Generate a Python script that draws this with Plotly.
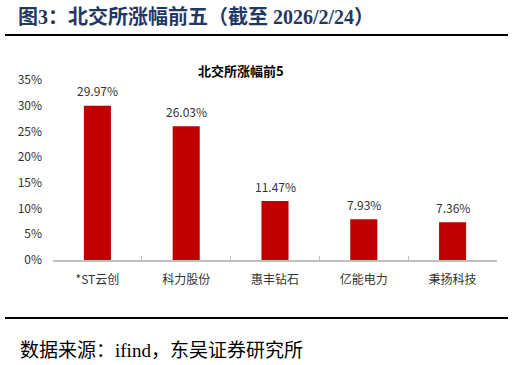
import plotly.graph_objects as go

categories = ["*ST云创", "科力股份", "惠丰钻石", "亿能电力", "秉扬科技"]
values = [0.2997, 0.2603, 0.1147, 0.0793, 0.0736]
ytick_vals = [0, 0.05, 0.10, 0.15, 0.20, 0.25, 0.30, 0.35]
ytick_text = ["0%", "5%", "10%", "15%", "20%", "25%", "30%", "35%"]

W, H = 513, 365
L, R, T, B = 53, 16, 80, 105
pw, ph = W - L - R, H - T - B

def px(x):
    return (x - L) / pw

def py(y):
    return (H - B - y) / ph

sans = "Noto Sans CJK SC, Microsoft YaHei, sans-serif"
serif = "Liberation Serif, Noto Sans CJK SC, serif"

fig = go.Figure(go.Bar(
    x=categories, y=values,
    marker=dict(color="#C00000", line=dict(width=0)),
    hovertemplate="%{x}: %{y:.2%}<extra></extra>",
))

for c, v in zip(categories, values):
    fig.add_annotation(
        x=c, y=v, xref="x", yref="y", text=f"{v * 100:.2f}%",
        showarrow=False, yanchor="middle", yshift=15,
        font=dict(family=sans, size=12, color="#333333"),
    )

fig.update_layout(
    width=W, height=H,
    margin=dict(l=L, r=R, t=T, b=B, pad=0),
    paper_bgcolor="white", plot_bgcolor="white",
    bargap=0.695, showlegend=False,
    xaxis=dict(
        showline=True, linecolor="#BFBFBF", linewidth=2,
        ticks="inside", tickson="boundaries", ticklen=4, tickcolor="#BFBFBF", tickwidth=1,
        tickfont=dict(family=sans, size=12, color="#333333"),
        ticklabelstandoff=8, showgrid=False, fixedrange=True,
    ),
    yaxis=dict(
        range=[0, 0.35], tickvals=ytick_vals, ticktext=ytick_text,
        showline=False, showgrid=False, zeroline=False, ticks="",
        tickfont=dict(family=sans, size=12, color="#333333"),
        ticklabelstandoff=10, fixedrange=True,
    ),
    font=dict(family=sans),
)

fig.add_annotation(
    text="图3：北交所涨幅前五（截至 2026/2/24）",
    xref="paper", yref="paper", x=px(16), y=py(17),
    xanchor="left", yanchor="middle", showarrow=False,
    font=dict(family=serif, size=20, color="#1F3864", weight="bold"),
)
fig.add_annotation(
    text="<b>北交所涨幅前5</b>",
    xref="paper", yref="paper", x=px(241), y=py(70),
    xanchor="center", yanchor="middle", showarrow=False,
    font=dict(family=sans, size=13, color="#000000"),
)
fig.add_annotation(
    text="数据来源：ifind，东吴证券研究所",
    xref="paper", yref="paper", x=px(18), y=py(350),
    xanchor="left", yanchor="middle", showarrow=False,
    font=dict(family=serif, size=19, color="#000000"),
)
for yl in (35, 318):
    fig.add_shape(type="line", xref="paper", yref="paper",
                  x0=px(5), x1=px(508), y0=py(yl), y1=py(yl),
                  line=dict(color="#000000", width=2))

fig.write_html("out.html")
